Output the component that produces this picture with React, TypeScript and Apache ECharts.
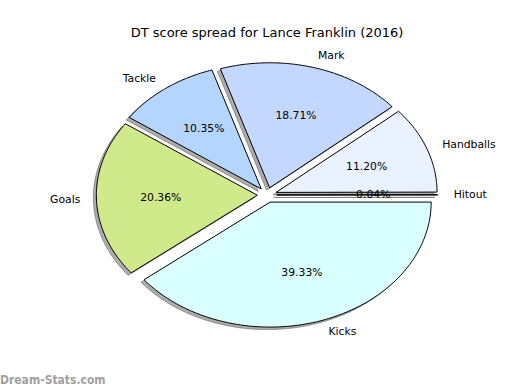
import React, { useEffect, useRef } from "react";
import * as echarts from "echarts";

const categories = ["Hitout", "Handballs", "Mark", "Tackle", "Goals", "Kicks"];
const values = [0.04, 11.2, 18.71, 10.35, 20.36, 39.33];
const sliceColors = ["#D9D9D9", "#EAF1FF", "#C4D8FF", "#B3D5FF", "#D0E98A", "#D9FFFF"];
const titleText = "DT score spread for Lance Franklin (2016)";
const watermark = "Dream-Stats.com";

const CX = 267;
const CY = 195;
const RX = 161;
const RY = 125;
const EXPLODE = 0.06;
const LABEL_DIST = 1.1;
const PCT_DIST = 0.6;
const FONT = "DejaVu Sans";
const LABEL_SIZE = 10.8;

export default function App() {
  const ref = useRef<HTMLDivElement>(null);
  useEffect(() => {
    if (!ref.current) return;
    const chart = echarts.init(ref.current, null, { renderer: "svg" });
    const total = values.reduce((a, b) => a + b, 0);
    const cums: number[] = [];
    let acc = 0;
    values.forEach((v) => {
      cums.push(acc);
      acc += v;
    });
    const renderItem = (params: any, api: any) => {
      const i = params.dataIndex;
      const v = api.value(0);
      const start = (cums[i] / total) * 2 * Math.PI;
      const end = ((cums[i] + v) / total) * 2 * Math.PI;
      const mid = (start + end) / 2;
      const ox = CX + EXPLODE * RX * Math.cos(mid);
      const oy = CY - EXPLODE * RY * Math.sin(mid);
      const steps = Math.max(2, Math.ceil(((end - start) * 180) / Math.PI));
      const pts: number[][] = [[ox, oy]];
      for (let k = 0; k <= steps; k++) {
        const a = start + ((end - start) * k) / steps;
        pts.push([ox + RX * Math.cos(a), oy - RY * Math.sin(a)]);
      }
      const shadowPts = pts.map((p) => [p[0] - 3, p[1] + 2.5]);
      const lx = ox + LABEL_DIST * RX * Math.cos(mid);
      const ly = oy - LABEL_DIST * RY * Math.sin(mid);
      const px = ox + PCT_DIST * RX * Math.cos(mid);
      const py = oy - PCT_DIST * RY * Math.sin(mid);
      return {
        type: "group",
        children: [
          {
            type: "polygon",
            z2: 0,
            shape: { points: shadowPts },
            style: { fill: "rgba(70,70,70,0.45)", stroke: "rgba(70,70,70,0.45)", lineWidth: 1 },
          },
          {
            type: "polygon",
            z2: 5,
            shape: { points: pts },
            style: { fill: sliceColors[i], stroke: "#000", lineWidth: 1 },
          },
          {
            type: "text",
            z2: 10,
            style: {
              text: categories[i],
              x: lx,
              y: ly,
              align: Math.cos(mid) > 0 ? "left" : "right",
              verticalAlign: "middle",
              fontSize: LABEL_SIZE,
              fontFamily: FONT,
              fill: "#000",
            },
          },
          {
            type: "text",
            z2: 10,
            style: {
              text: v.toFixed(2) + "%",
              x: px,
              y: py,
              align: "center",
              verticalAlign: "middle",
              fontSize: LABEL_SIZE,
              fontFamily: FONT,
              fill: "#000",
            },
          },
        ],
      };
    };
    chart.setOption({
      animation: false,
      backgroundColor: "#fff",
      title: {
        text: titleText,
        left: 262,
        top: 21,
        textAlign: "center",
        textStyle: { fontSize: 13, fontWeight: "normal", fontFamily: FONT, color: "#000" },
      },
      graphic: [
        {
          type: "text",
          left: 0,
          top: 374,
          style: {
            text: watermark,
            fontSize: 12,
            fontWeight: "bold",
            fontFamily: "DejaVu Sans Condensed",
            fill: "#a0a0a0",
          },
        },
      ],
      series: [
        {
          type: "custom",
          coordinateSystem: "none",
          silent: true,
          renderItem,
          data: values.map((v, i) => ({ name: categories[i], value: [v] })),
        },
      ],
    });
    return () => chart.dispose();
  }, []);
  return (
    <div
      ref={ref}
      style={{ position: "absolute", left: 0, top: 0, width: 520, height: 390 }}
    />
  );
}
